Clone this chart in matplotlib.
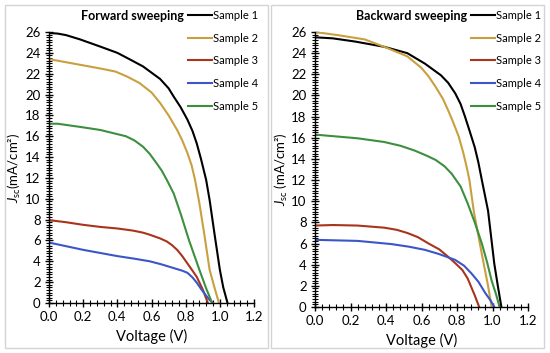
import matplotlib
matplotlib.use("Agg")
import matplotlib.pyplot as plt
from matplotlib.patches import Rectangle
from matplotlib.ticker import MultipleLocator

plt.rcParams['font.family'] = ['Lato', 'DejaVu Sans']
plt.rcParams['mathtext.fontset'] = 'custom'
plt.rcParams['mathtext.rm'] = 'Lato'
plt.rcParams['mathtext.it'] = 'Lato:italic'

labels = ["Sample 1", "Sample 2", "Sample 3", "Sample 4", "Sample 5"]
colors = ["#000000", "#c9a040", "#a8341c", "#3a56c8", "#3d8f40"]

# Forward sweeping
fwd_v1 = [0, 0.05, 0.1, 0.18, 0.3, 0.4, 0.47, 0.55, 0.65, 0.7, 0.73, 0.77, 0.81, 0.84, 0.865, 0.89, 0.92, 0.94, 0.97, 1.0, 1.02, 1.045]
fwd_j1 = [25.9, 25.85, 25.7, 25.3, 24.6, 24.0, 23.4, 22.7, 21.5, 20.6, 19.8, 18.8, 17.6, 16.5, 15.3, 13.8, 11.8, 9.9, 6.5, 3.2, 1.5, 0]
fwd_v2 = [0, 0.1, 0.2, 0.3, 0.39, 0.46, 0.53, 0.6, 0.65, 0.7, 0.75, 0.78, 0.81, 0.835, 0.855, 0.88, 0.91, 0.94, 0.97, 0.995]
fwd_j2 = [23.4, 23.1, 22.8, 22.5, 22.2, 21.7, 21.1, 20.2, 19.2, 18.0, 16.6, 15.6, 14.4, 13.2, 11.8, 9.6, 6.5, 3.2, 1.4, 0]
fwd_v3 = [0, 0.1, 0.2, 0.3, 0.4, 0.49, 0.55, 0.59, 0.65, 0.69, 0.72, 0.75, 0.78, 0.81, 0.84, 0.865, 0.9, 0.93]
fwd_j3 = [7.95, 7.75, 7.5, 7.3, 7.15, 6.95, 6.75, 6.55, 6.2, 5.9, 5.55, 5.1, 4.5, 3.8, 3.1, 2.5, 1.3, 0]
fwd_v4 = [0, 0.1, 0.2, 0.3, 0.4, 0.5, 0.59, 0.66, 0.73, 0.78, 0.81, 0.84, 0.865, 0.89, 0.92, 0.94, 0.96]
fwd_j4 = [5.8, 5.45, 5.1, 4.8, 4.5, 4.25, 4.0, 3.7, 3.35, 3.1, 2.9, 2.45, 1.95, 1.35, 0.7, 0.3, 0]
fwd_v5 = [0, 0.05, 0.18, 0.3, 0.4, 0.45, 0.5, 0.55, 0.59, 0.63, 0.66, 0.69, 0.73, 0.77, 0.82, 0.88, 0.92, 0.955]
fwd_j5 = [17.2, 17.2, 16.9, 16.6, 16.2, 16.0, 15.6, 15.0, 14.3, 13.4, 12.7, 11.8, 10.5, 8.6, 6.0, 3.2, 1.4, 0]

# Backward sweeping
bwd_v1 = [0, 0.1, 0.225, 0.39, 0.52, 0.62, 0.71, 0.75, 0.79, 0.82, 0.845, 0.87, 0.9, 0.92, 0.94, 0.975, 1.01, 1.03, 1.05]
bwd_j1 = [25.5, 25.4, 25.1, 24.6, 24.0, 23.0, 21.9, 21.2, 20.2, 19.2, 18.0, 16.7, 15.1, 13.7, 12.0, 9.1, 4.1, 2.0, 0]
bwd_v2 = [0, 0.13, 0.28, 0.39, 0.52, 0.6, 0.64, 0.68, 0.72, 0.75, 0.78, 0.81, 0.835, 0.855, 0.87, 0.895, 0.94, 0.975, 0.995]
bwd_j2 = [26.0, 25.7, 25.3, 24.6, 23.7, 22.6, 21.8, 20.8, 19.7, 18.6, 17.4, 16.1, 14.6, 13.2, 12.0, 9.0, 5.0, 2.0, 0]
bwd_v3 = [0, 0.1, 0.24, 0.39, 0.46, 0.52, 0.58, 0.64, 0.7, 0.75, 0.79, 0.83, 0.86, 0.88, 0.9, 0.925]
bwd_j3 = [7.7, 7.75, 7.7, 7.5, 7.3, 7.0, 6.6, 6.0, 5.45, 4.75, 4.15, 3.5, 2.7, 1.9, 1.1, 0]
bwd_v4 = [0, 0.24, 0.43, 0.53, 0.62, 0.7, 0.79, 0.84, 0.88, 0.92, 0.96, 0.99, 1.01]
bwd_j4 = [6.35, 6.25, 5.95, 5.7, 5.4, 5.0, 4.45, 3.9, 3.2, 2.4, 1.3, 0.6, 0]
bwd_v5 = [0, 0.24, 0.39, 0.48, 0.56, 0.63, 0.68, 0.73, 0.77, 0.82, 0.86, 0.9, 0.94, 0.97, 0.995, 1.02, 1.04]
bwd_j5 = [16.3, 15.95, 15.6, 15.25, 14.8, 14.3, 13.9, 13.3, 12.6, 11.4, 9.8, 8.0, 6.0, 4.2, 2.5, 1.2, 0]

fwd = [(fwd_v1, fwd_j1), (fwd_v2, fwd_j2), (fwd_v3, fwd_j3), (fwd_v4, fwd_j4), (fwd_v5, fwd_j5)]
bwd = [(bwd_v1, bwd_j1), (bwd_v2, bwd_j2), (bwd_v3, bwd_j3), (bwd_v4, bwd_j4), (bwd_v5, bwd_j5)]

x_ticks = [0.0, 0.2, 0.4, 0.6, 0.8, 1.0, 1.2]
y_ticks = list(range(0, 27, 2))

W, H = 550, 353
fig = plt.figure(figsize=(W / 100, H / 100), dpi=100)

# panel frames
for (x0, x1) in [(5, 268), (271, 544)]:
    fig.patches.append(Rectangle((x0 / W, 1 - 348 / H), (x1 - x0) / W, (348 - 5) / H,
                                 transform=fig.transFigure, fill=False,
                                 edgecolor="#d4d4d4", linewidth=1.0))

axL = fig.add_axes([49 / W, 1 - 303 / H, (254 - 49) / W, (303 - 32) / H])
axR = fig.add_axes([315 / W, 1 - 307 / H, (528 - 315) / W, (307 - 32) / H])

setups = [
    (axL, fwd, "Forward sweeping", r"$J_{\rm sc}$(mA/cm²)", 188),
    (axR, bwd, "Backward sweeping", r"$J_{\rm sc}$ (mA/cm²)", 471),
]

for ax, data, title, ylab, legx in setups:
    for (v, j), c, lab in zip(data, colors, labels):
        ax.plot(v, j, color=c, lw=1.5, label=lab)
    ax.set_xlim(0, 1.2)
    ax.set_ylim(0, 26)
    ax.set_xticks(x_ticks)
    ax.set_xticklabels([f"{t:.1f}" for t in x_ticks])
    ax.set_yticks(y_ticks)
    ax.xaxis.set_minor_locator(MultipleLocator(0.04))
    ax.yaxis.set_minor_locator(MultipleLocator(0.25))
    ax.tick_params(which="major", direction="inout", length=6, width=1.0, labelsize=9.5, pad=3)
    ax.tick_params(which="minor", direction="inout", length=4, width=0.8)
    for s in ["top", "right"]:
        ax.spines[s].set_visible(False)
    for s in ["left", "bottom"]:
        ax.spines[s].set_linewidth(1.0)
    ax.set_xlabel("Voltage (V)", fontsize=10.5, labelpad=4)
    ax.set_ylabel(ylab, fontsize=9.5)
    ax.legend(loc="upper left", bbox_to_anchor=(legx / W, 1 - 10 / H),
              bbox_transform=fig.transFigure, frameon=False, fontsize=8,
              handlelength=2.2, handletextpad=0.05, labelspacing=1.05,
              borderpad=0, borderaxespad=0)
    fig.text((legx - 4) / W, 1 - 16 / H, title, ha="right", va="center",
             fontsize=9, fontweight="bold")

# y label positions (right edge of rotated label)
axL.yaxis.set_label_coords((23 - 49) / (254 - 49), 0.5)
axR.yaxis.set_label_coords((290 - 315) / (528 - 315), 0.5)

fig.savefig("out.png", dpi=100)
